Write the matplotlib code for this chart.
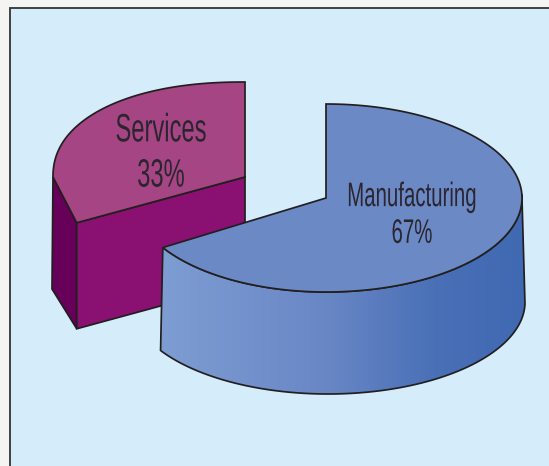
import numpy as np
import matplotlib
matplotlib.use("Agg")
import matplotlib.pyplot as plt
from matplotlib.patches import Polygon, Rectangle
from matplotlib.patheffects import AbstractPathEffect
from matplotlib.transforms import Affine2D

# data
categories = ["Manufacturing", "Services"]
shares = [67, 33]

# drawing style
EDGE = "#231f20"
TEXT = "#2b2530"
LW = 1.25
SWEEP_TRIM = 3.0  # projection correction, degrees


class Squeeze(AbstractPathEffect):
    """Horizontally condense the glyphs of a text around a display x."""
    def __init__(self, cx, sx):
        super().__init__()
        self.cx, self.sx = cx, sx

    def draw_path(self, renderer, gc, tpath, affine, rgbFace=None):
        t = affine + Affine2D().translate(-self.cx, 0).scale(self.sx, 1).translate(self.cx, 0)
        renderer.draw_path(gc, tpath, t, rgbFace)


def arc(cx, cy, rxr, rxl, ry, t0, t1, n=200, p=2.0):
    t = np.radians(np.linspace(t0, t1, n))
    c, s = np.cos(t), np.sin(t)
    x = np.sign(c) * np.abs(c) ** (2 / p)
    y = np.sign(s) * np.abs(s) ** (2 / p)
    return np.column_stack([cx + np.where(x > 0, rxr, rxl) * x, cy - ry * y])


fig = plt.figure(figsize=(5.49, 4.66), dpi=100, facecolor="#f4f4f3")
ax = fig.add_axes([0, 0, 1, 1])
ax.set_xlim(0, 549)
ax.set_ylim(466, 0)
ax.axis("off")

# panel
ax.add_patch(Rectangle((10, 8), 600, 500, fc="#d5edfb", ec="#333333", lw=1.3, zorder=0))

# Services wedge
share_s = shares[1] / sum(shares)
end_s = 90 + 360 * share_s
scx, scy, srx, sry = 245, 177, 192, 95
sdepth = 106
apex = arc(scx, scy, srx, srx, sry, end_s, end_s, n=1)[0]
arc_s = arc(scx, scy, srx, srx, sry, 90, 180, p=2.2)
left_pt = arc_s[-1]
ax.add_patch(Polygon([left_pt, apex, apex + [0, sdepth], left_pt + [-1, sdepth + 6]],
                     closed=True, fc="#660058", ec=EDGE, lw=LW, joinstyle="miter", zorder=1))
ax.add_patch(Polygon([apex, (scx, scy), (scx, scy + sdepth), apex + [0, sdepth]],
                     closed=True, fc="#8a1072", ec=EDGE, lw=LW, joinstyle="miter", zorder=1))
ax.add_patch(Polygon(np.vstack([arc_s, [apex], [(scx, scy)]]),
                     closed=True, fc="#a64583", ec=EDGE, lw=LW, joinstyle="miter", zorder=2))

# Manufacturing wedge
share_m = shares[0] / sum(shares)
end_m = 90 - 360 * share_m + SWEEP_TRIM
mcx, mcy, mrr, mrl, mry = 326, 198, 196, 192, 94
top_side = arc(mcx, mcy, mrr, mrl, mry, 2, end_m)
bot_side = arc(mcx + 2, 302, 197, 197, 92, -1, end_m)
side = Polygon(np.vstack([top_side, bot_side[::-1]]), closed=True, fc="none", ec=EDGE,
               lw=LW, joinstyle="miter", zorder=4)
ax.add_patch(side)
cmap = matplotlib.colors.LinearSegmentedColormap.from_list(
    "side", [(0, "#7e9dd3"), (0.45, "#6987c5"), (0.75, "#4a70b7"), (1, "#3f69b2")])
im = ax.imshow(np.linspace(0, 1, 256)[None, :], extent=(160, 526, 400, 190), cmap=cmap,
               aspect="auto", zorder=3)
im.set_clip_path(Polygon(side.get_xy(), closed=True, transform=ax.transData))
ax.set_xlim(0, 549)
ax.set_ylim(466, 0)

arc_m = arc(mcx, mcy, mrr, mrl, mry, 90, end_m, n=300)
ax.add_patch(Polygon(np.vstack([arc_m, [(mcx, mcy)]]), closed=True, fc="#6b8ac5",
                     ec=EDGE, lw=LW, joinstyle="miter", zorder=5))

# labels
font = ["Liberation Sans", "DejaVu Sans"]
for cat, val, x, y, size, ls in [
    (categories[1], shares[1], 161, 153, 28.5, 1.24),
    (categories[0], shares[0], 412, 216, 24.5, 1.24),
]:
    dx = ax.transData.transform((x, y))[0]
    ax.text(x, y, f"{cat}\n{val}%", ha="center", va="center", ma="center", fontsize=size,
            family=font, color=TEXT, linespacing=ls, zorder=6,
            path_effects=[Squeeze(dx, 0.60)])

fig.savefig("out.png", dpi=100, facecolor=fig.get_facecolor())
